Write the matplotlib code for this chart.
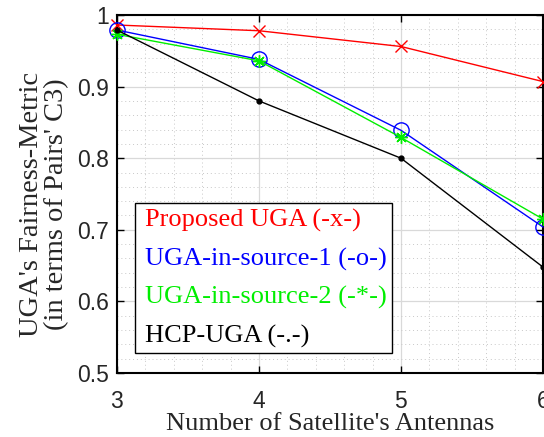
import numpy as np
import matplotlib.pyplot as plt
from matplotlib.ticker import MultipleLocator

# Data
antennas = [3, 4, 5, 6]
proposed_uga = [0.986, 0.978, 0.956, 0.907]
uga_source_1 = [0.979, 0.938, 0.839, 0.704]
uga_source_2 = [0.973, 0.936, 0.829, 0.715]
hcp_uga = [0.979, 0.880, 0.800, 0.648]

labels = ["Proposed UGA (-x-)", "UGA-in-source-1 (-o-)",
          "UGA-in-source-2 (-*-)", "HCP-UGA (-.-)"]

fig = plt.figure(figsize=(5.44, 4.37), dpi=100)
ax = fig.add_axes([0.215, 0.1465, 0.783, 0.8192])

# Plot each series (MATLAB-style markers)
ax.plot(antennas, proposed_uga, color="red", marker="x", ms=8, mew=1, lw=1, clip_on=False, zorder=5)
ax.plot(antennas, uga_source_1, color="blue", marker="o", ms=11, mfc="none", mew=1, lw=1, clip_on=False, zorder=5)
ax.plot(antennas, uga_source_2, color="#00ee00", marker=(8, 2, 0), ms=9, mew=1, lw=1, clip_on=False, zorder=5)
ax.plot(antennas, hcp_uga, color="black", marker=".", ms=7, lw=1, clip_on=False, zorder=5)

ax.set_xlim(3, 6)
ax.set_ylim(0.5, 1)
ax.xaxis.set_major_locator(MultipleLocator(1))
ax.xaxis.set_minor_locator(MultipleLocator(0.2))
ax.yaxis.set_major_locator(MultipleLocator(0.1))
ax.yaxis.set_minor_locator(MultipleLocator(0.02))
ax.set_yticks([0.5, 0.6, 0.7, 0.8, 0.9, 1.0])
ax.set_yticklabels(["0.5", "0.6", "0.7", "0.8", "0.9", "1"])

# MATLAB-like grid
ax.grid(which="major", color="#d9d9d9", lw=0.9, ls="-")
ax.grid(which="minor", color="#c8c8c8", lw=0.7, ls=(0, (1, 3)))
ax.set_axisbelow(True)

ax.tick_params(which="both", direction="in", top=True, right=True)
ax.tick_params(which="major", length=5, width=1)
ax.tick_params(which="minor", length=0)
ax.tick_params(labelsize=16.5)
ax.tick_params(axis="x", pad=12)
ax.tick_params(axis="y", pad=6)
for lab in ax.get_xticklabels() + ax.get_yticklabels():
    lab.set_family("Liberation Sans")
    lab.set_color("#262626")
for sp in ax.spines.values():
    sp.set_linewidth(1.5)

ax.set_xlabel("Number of Satellite's Antennas", family="Liberation Serif", fontsize=19, color="#262626", labelpad=0)
ax.set_ylabel("UGA's Fairness-Metric\n(in terms of Pairs' C3)", family="Liberation Serif", fontsize=20.5,
              color="#262626", linespacing=1.0)
ax.yaxis.set_label_coords(-0.113, 0.472)

# Legend with coloured text only
leg = ax.legend(labels, loc="lower left", bbox_to_anchor=(0.042, 0.056), borderaxespad=0,
                handlelength=0, handletextpad=0.2, labelcolor="linecolor", fancybox=False,
                edgecolor="black", framealpha=1, prop={"family": "Liberation Serif", "size": 19},
                labelspacing=0.55, borderpad=0.2)
leg.get_frame().set_linewidth(1)
for h in leg.legend_handles:
    h.set_visible(False)

plt.savefig("out.png", dpi=100)
